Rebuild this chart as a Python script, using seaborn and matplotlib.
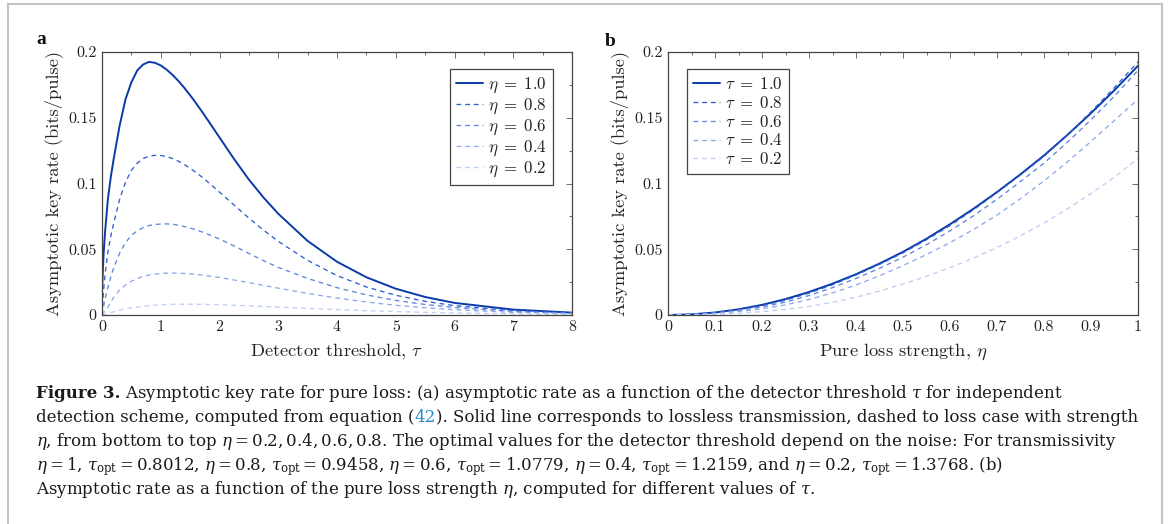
import matplotlib
matplotlib.use("Agg")
import matplotlib.pyplot as plt
from matplotlib.patches import Rectangle
from matplotlib.ticker import MultipleLocator
import seaborn as sns

# panel a: rate vs detector threshold tau, one curve per loss strength eta
tau_grid = [0, 0.025, 0.05, 0.1, 0.15, 0.2, 0.3, 0.4, 0.5, 0.6, 0.7, 0.8, 0.9, 1.0,
            1.1, 1.2, 1.3, 1.4, 1.55, 1.7, 1.85, 2.0, 2.25, 2.5, 2.75, 3.0, 3.5,
            4.0, 4.5, 5.0, 5.5, 6.0, 7.0, 8.0]
rate_eta_10 = [0.018, 0.045, 0.062, 0.088, 0.105, 0.119, 0.144, 0.164, 0.177, 0.186,
               0.1905, 0.1925, 0.1918, 0.1898, 0.1866, 0.1826, 0.1780, 0.1728, 0.1642,
               0.1548, 0.1450, 0.1350, 0.1185, 0.1030, 0.0893, 0.0770, 0.0563, 0.0405,
               0.0287, 0.0200, 0.0137, 0.0092, 0.0041, 0.0018]
rate_eta_08 = [0, 0.018, 0.030, 0.048, 0.060, 0.070, 0.088, 0.101, 0.110, 0.1155,
               0.119, 0.1207, 0.1214, 0.1213, 0.1205, 0.1190, 0.1170, 0.1145, 0.1100,
               0.1050, 0.0993, 0.0935, 0.0835, 0.0737, 0.0645, 0.0560, 0.0415, 0.0300,
               0.0213, 0.0150, 0.0104, 0.0071, 0.0033, 0.0015]
rate_eta_06 = [0, 0.006, 0.012, 0.021, 0.029, 0.036, 0.047, 0.055, 0.0605, 0.064,
               0.0665, 0.068, 0.0688, 0.0692, 0.0693, 0.0690, 0.0683, 0.0673, 0.0655,
               0.0632, 0.0606, 0.0578, 0.0525, 0.0468, 0.0413, 0.0362, 0.0278, 0.0208,
               0.0153, 0.0111, 0.0080, 0.0057, 0.0027, 0.0012]
rate_eta_04 = [0, 0.0013, 0.003, 0.006, 0.010, 0.0135, 0.0190, 0.0228, 0.0257, 0.0278,
               0.0293, 0.0304, 0.0311, 0.0315, 0.0318, 0.0319, 0.0318, 0.0316, 0.0311,
               0.0304, 0.0295, 0.0285, 0.0266, 0.0246, 0.0225, 0.0204, 0.0164, 0.0129,
               0.0099, 0.0074, 0.0055, 0.0040, 0.0020, 0.0010]
rate_eta_02 = [0, 0.0001, 0.0004, 0.001, 0.0017, 0.0025, 0.0037, 0.0047, 0.0055, 0.0061,
               0.0066, 0.0071, 0.0075, 0.0078, 0.0080, 0.0081, 0.0082, 0.0082, 0.0082,
               0.0081, 0.0080, 0.0078, 0.0074, 0.0070, 0.0065, 0.0060, 0.0050, 0.0041,
               0.0033, 0.0026, 0.0020, 0.0016, 0.0009, 0.0005]

# panel b: rate vs pure loss strength eta, one curve per threshold tau
eta_grid = [0, 0.05, 0.1, 0.15, 0.2, 0.25, 0.3, 0.35, 0.4, 0.45, 0.5,
            0.55, 0.6, 0.65, 0.7, 0.75, 0.8, 0.85, 0.9, 0.95, 1.0]
rate_tau_10 = [0, 0.0005, 0.0019, 0.0043, 0.0077, 0.0121, 0.0175, 0.0238, 0.031, 0.0391,
               0.048, 0.058, 0.069, 0.0808, 0.0935, 0.107, 0.1213, 0.137, 0.1535, 0.171, 0.1895]
rate_tau_08 = [0, 0.0004, 0.0017, 0.0040, 0.0071, 0.0113, 0.0166, 0.0230, 0.0304, 0.0385,
               0.0473, 0.0572, 0.068, 0.0800, 0.0930, 0.1065, 0.1207, 0.137, 0.1545, 0.173, 0.1925]
rate_tau_06 = [0, 0.0004, 0.0015, 0.0035, 0.0061, 0.0098, 0.0148, 0.0208, 0.0278, 0.0355,
               0.0440, 0.0535, 0.064, 0.0755, 0.0880, 0.1015, 0.1155, 0.1315, 0.1485, 0.1665, 0.186]
rate_tau_04 = [0, 0.0003, 0.0011, 0.0026, 0.0047, 0.0077, 0.0118, 0.0168, 0.0228, 0.0298,
               0.0376, 0.0460, 0.055, 0.065, 0.0760, 0.0885, 0.102, 0.1165, 0.132, 0.148, 0.164]
rate_tau_02 = [0, 0.0002, 0.0006, 0.0014, 0.0025, 0.0042, 0.0065, 0.0096, 0.0135, 0.0182,
               0.0236, 0.0295, 0.036, 0.0433, 0.0513, 0.0602, 0.0700, 0.0807, 0.0923, 0.1048, 0.119]

series_values = ["1.0", "0.8", "0.6", "0.4", "0.2"]
colors = ["#0a3aa8", "#2f5fd0", "#5f86de", "#8eaaea", "#bfcff4"]

sns.set_theme(style="white")
plt.rcParams["axes.unicode_minus"] = False

W, H = 1168, 524
fig = plt.figure(figsize=(W / 100, H / 100), dpi=100)
fig.patch.set_facecolor("white")

def px_axes(x0, y0, x1, y1):
    return fig.add_axes([x0 / W, 1 - y1 / H, (x1 - x0) / W, (y1 - y0) / H])

ax_a = px_axes(102, 52, 572, 315)
ax_b = px_axes(668, 52, 1138, 315)

def draw_curves(ax, x, ys, sym):
    for i, (y, val) in enumerate(zip(ys, series_values)):
        sns.lineplot(x=x, y=y, ax=ax, color=colors[i],
                     linewidth=1.4 if i == 0 else 0.95,
                     linestyle="-" if i == 0 else "--",
                     label=rf"${sym}\;=\;{val}$")
        line = ax.get_lines()[-1]
        if i > 0:
            line.set_dashes((3.6, 3.0))

draw_curves(ax_a, tau_grid, [rate_eta_10, rate_eta_08, rate_eta_06, rate_eta_04, rate_eta_02], r"\eta")
draw_curves(ax_b, eta_grid, [rate_tau_10, rate_tau_08, rate_tau_06, rate_tau_04, rate_tau_02], r"\tau")

y_ticks = [0, 0.05, 0.1, 0.15, 0.2]
y_tick_labels = ["0", "0.05", "0.1", "0.15", "0.2"]
xa_ticks = [0, 1, 2, 3, 4, 5, 6, 7, 8]
xb_ticks = [0, 0.1, 0.2, 0.3, 0.4, 0.5, 0.6, 0.7, 0.8, 0.9, 1.0]
xb_tick_labels = ["0", "0.1", "0.2", "0.3", "0.4", "0.5", "0.6", "0.7", "0.8", "0.9", "1"]

tick_font = dict(family="cmr10", size=11.5)
label_font = dict(family="cmr10", size=13.3)

for ax, xt, xl, xmax, xminor, xlabel in [
        (ax_a, xa_ticks, [str(v) for v in xa_ticks], 8, 0.5, r"Detector threshold, $\tau$"),
        (ax_b, xb_ticks, xb_tick_labels, 1, 0.05, r"Pure loss strength, $\eta$")]:
    ax.set_xlim(0, xmax)
    ax.set_ylim(0, 0.2)
    ax.set_xticks(xt)
    ax.set_xticklabels(xl, fontdict=tick_font)
    ax.set_yticks(y_ticks)
    ax.set_yticklabels(y_tick_labels, fontdict=tick_font)
    ax.xaxis.set_minor_locator(MultipleLocator(xminor))
    ax.yaxis.set_minor_locator(MultipleLocator(0.025))
    ax.tick_params(which="both", direction="in", top=True, right=True,
                   color="#555555", width=0.6)
    ax.tick_params(which="major", length=4, pad=4, labelcolor="#222222")
    ax.tick_params(which="minor", length=2.5)
    for sp in ax.spines.values():
        sp.set_color("#444444")
        sp.set_linewidth(0.9)
    ax.set_xlabel(xlabel, fontdict=label_font, math_fontfamily="cm", color="#222222", labelpad=5)
    ax.set_ylabel("Asymptotic key rate (bits/pulse)", fontdict=label_font,
                  color="#222222", labelpad=4)
    ax.grid(False)

leg_kw = dict(frameon=True, fancybox=False, framealpha=1, edgecolor="#444444",
              prop=dict(size=12.2), handlelength=1.6, handletextpad=0.3,
              labelspacing=0.05, borderpad=0.35, borderaxespad=0)
leg_a = ax_a.legend(loc="upper right", bbox_to_anchor=((553 - 102) / 470, (315 - 69) / 263), **leg_kw)
leg_b = ax_b.legend(loc="upper left", bbox_to_anchor=((687 - 668) / 470, (315 - 69) / 263), **leg_kw)
for leg in (leg_a, leg_b):
    leg.get_frame().set_linewidth(0.9)
    for t in leg.get_texts():
        t.set_math_fontfamily("cm")
        t.set_color("#222222")

# panel letters
fig.text(36 / W, 1 - 44 / H, "a", fontfamily="Liberation Serif", fontweight="bold", fontsize=14, color="#111111")
fig.text(605 / W, 1 - 46 / H, "b", fontfamily="Liberation Serif", fontweight="bold", fontsize=14, color="#111111")

# frame around the figure
fig.patches.append(Rectangle((8 / W, -0.05), (1162 - 8) / W, 1.05 - 4 / H, transform=fig.transFigure,
                             fill=False, edgecolor="#c4c4c4", linewidth=1.5))

# caption
cap = dict(fontfamily="DejaVu Serif", fontsize=12.0, color="#1a1a1a", math_fontfamily="dejavuserif")
cap_bold = dict(cap, fontweight="bold")
cap_link = dict(cap, color="#2a8ac8")
caption_lines = [
    [("Figure 3.", cap_bold),
     (r" Asymptotic key rate for pure loss: (a) asymptotic rate as a function of the detector threshold $\tau$ for independent", cap)],
    [("detection scheme, computed from equation (", cap), ("42", cap_link),
     ("). Solid line corresponds to lossless transmission, dashed to loss case with strength", cap)],
    [(r"$\eta$, from bottom to top $\eta = 0.2, 0.4, 0.6, 0.8$. The optimal values for the detector threshold depend on the noise: For transmissivity", cap)],
    [(r"$\eta = 1$, $\tau_{\mathrm{opt}} = 0.8012$, $\eta = 0.8$, $\tau_{\mathrm{opt}} = 0.9458$, $\eta = 0.6$, "
      r"$\tau_{\mathrm{opt}} = 1.0779$, $\eta = 0.4$, $\tau_{\mathrm{opt}} = 1.2159$, and $\eta = 0.2$, "
      r"$\tau_{\mathrm{opt}} = 1.3768$. (b)", cap)],
    [(r"Asymptotic rate as a function of the pure loss strength $\eta$, computed for different values of $\tau$.", cap)],
]
baselines = [398, 422, 446, 470, 494]

renderer = fig.canvas.get_renderer()

# fit the caption size so that the second line ends where it does in the page
probe = 0
for txt, props in caption_lines[1]:
    t = fig.text(0, 0, txt, **props)
    probe += t.get_window_extent(renderer).width
    t.remove()
scale = (1137 - 36) / probe
for d in (cap, cap_bold, cap_link):
    d["fontsize"] *= scale

for pieces, yb in zip(caption_lines, baselines):
    x = 36
    for txt, props in pieces:
        props = dict(props, fontsize=cap["fontsize"])
        t = fig.text(x / W, 1 - yb / H, txt, va="baseline", ha="left", **props)
        x += t.get_window_extent(renderer).width

fig.savefig("out.png", dpi=100)
